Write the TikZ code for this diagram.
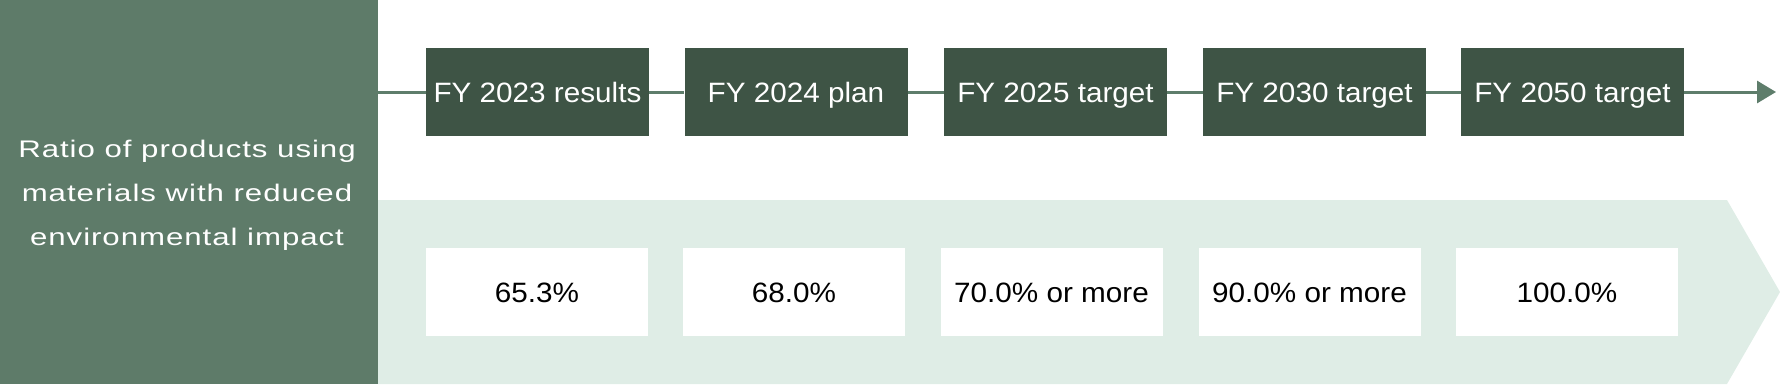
\documentclass[tikz,border=0pt]{standalone}
\usepackage{fontspec}
\setmainfont{Liberation Sans}
\newfontfamily\leftfont[FakeStretch=1.3,LetterSpace=4]{Liberation Sans}
\newfontfamily\boxfont[FakeStretch=1.06]{Liberation Sans}
\usetikzlibrary{arrows.meta}
\definecolor{panelgreen}{RGB}{94,123,105}
\definecolor{darkgreen}{RGB}{62,84,69}
\definecolor{lightgreen}{RGB}{223,237,230}
\definecolor{linegreen}{RGB}{94,125,107}
\tikzset{
  yearbox/.style={fill=darkgreen, text=white, minimum width=223pt, minimum height=88pt,
    inner sep=0pt, text height=20pt, text depth=0pt, font=\boxfont\fontsize{28}{30}\selectfont},
  valbox/.style={fill=white, text=black, minimum width=222pt, minimum height=88pt,
    inner sep=0pt, text height=20pt, text depth=0pt, font=\boxfont\fontsize{28}{30}\selectfont},
  timeline/.style={draw=linegreen, line width=3pt},
}
\begin{document}
\begin{tikzpicture}[x=1pt,y=-1pt]
\useasboundingbox (0,0) rectangle (1780,384);
% left panel
\fill[panelgreen] (0,0) rectangle (378,384);
\node[text=white, align=center, inner sep=0pt, font=\leftfont\fontsize{24}{44}\selectfont]
  (label) at (187,195) {Ratio of products using\\materials with reduced\\environmental impact};
% light band arrow
\fill[lightgreen] (378,200) -- (1727,200) -- (1780,292) -- (1727,384) -- (378,384) -- cycle;
% year boxes
\node[yearbox] (y1) at (537.5,92) {FY 2023 results};
\node[yearbox] (y2) at (796,92) {FY 2024 plan};
\node[yearbox] (y3) at (1055.5,92) {FY 2025 target};
\node[yearbox] (y4) at (1314.5,92) {FY 2030 target};
\node[yearbox] (y5) at (1572.5,92) {FY 2050 target};
\coordinate (ls) at (378,92);
\coordinate (le) at (1776,92);
\draw[timeline] (ls) -- (y1);
\draw[timeline] (y1) -- (y2);
\draw[timeline] (y2) -- (y3);
\draw[timeline] (y3) -- (y4);
\draw[timeline] (y4) -- (y5);
\draw[timeline, -{Triangle[width=22pt,length=19pt]}] (y5) -- (le);
% value boxes
\node[valbox] (v1) at (537,292) {65.3\%};
\node[valbox] (v2) at (794,292) {68.0\%};
\node[valbox] (v3) at (1051.5,292) {70.0\% or more};
\node[valbox] (v4) at (1309.5,292) {90.0\% or more};
\node[valbox] (v5) at (1567,292) {100.0\%};
\end{tikzpicture}
\end{document}
